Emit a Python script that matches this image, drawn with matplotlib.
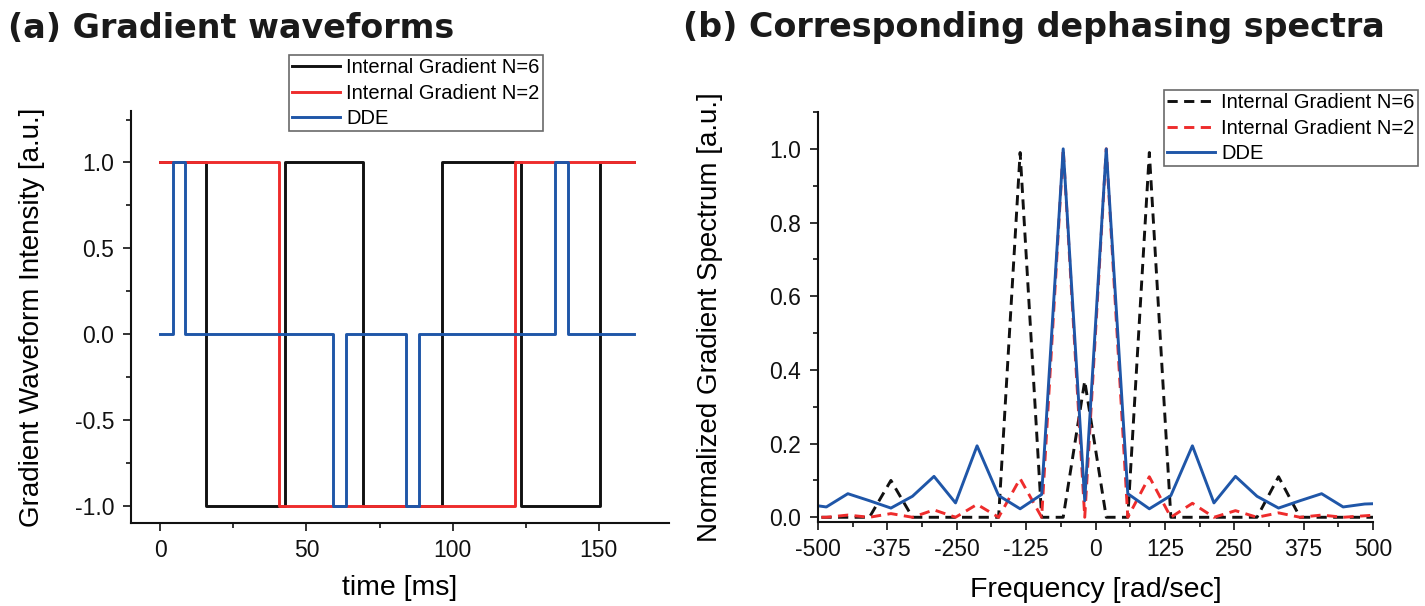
import matplotlib
matplotlib.use("Agg")
import matplotlib.pyplot as plt
from matplotlib.ticker import MultipleLocator, FormatStrFormatter

plt.rcParams['font.family'] = ['Liberation Sans', 'DejaVu Sans']
plt.rcParams['axes.unicode_minus'] = False

# (a) gradient waveforms: switching times [ms] and levels (steps-post)
t_n6 = [0, 15.5, 42.5, 69.5, 96.5, 123.5, 150.5, 162]
g_n6 = [1, -1, 1, -1, 1, -1, 1, 1]
t_n2 = [0, 40.5, 121.5, 162]
g_n2 = [1, -1, 1, 1]
t_dde = [0, 4.2, 8.5, 59, 63.5, 84, 88.5, 135, 139.5, 162]
g_dde = [0, 1, 0, -1, 0, -1, 0, 1, 0, 0]

# (b) dephasing spectra
freq = [-523.8, -485.0, -446.2, -407.4, -368.6, -329.8, -291.0, -252.2,
        -213.4, -174.6, -135.8, -97.0, -58.2, -19.4, 19.4, 58.2, 97.0,
        135.8, 174.6, 213.4, 252.2, 291.0, 329.8, 368.6, 407.4, 446.2,
        485.0, 523.8]
spec_n6 = [0, 0, 0, 0, 0.10, 0, 0, 0, 0, 0, 0.99, 0, 0, 0.37, 0, 0, 0.99,
           0, 0, 0, 0, 0, 0.11, 0, 0, 0, 0, 0]
spec_n2 = [0.0, 0.0, 0.006, 0.0, 0.01, 0.0, 0.02, 0.0, 0.035, 0.0, 0.105,
           0.0, 1.0, 0.0, 1.0, 0.0, 0.11, 0.0, 0.038, 0.0, 0.018, 0.0,
           0.012, 0.0, 0.006, 0.0, 0.004, 0.008]
spec_dde = [0.036, 0.028, 0.064, 0.045, 0.025, 0.057, 0.111, 0.039, 0.194,
            0.059, 0.023, 0.062, 1.0, 0.045, 1.0, 0.064, 0.023, 0.059,
            0.194, 0.039, 0.111, 0.057, 0.025, 0.045, 0.064, 0.028, 0.036,
            0.038]

labels = ["Internal Gradient N=6", "Internal Gradient N=2", "DDE"]
c_black = "#111111"
c_red = "#ee2c2c"
c_blue = "#1f56a8"
lw = 2.1
W, H = 1425, 606

fig = plt.figure(figsize=(W / 100, H / 100), dpi=100)
ax1 = fig.add_axes([131 / W, (H - 522.7) / H, (669 - 131) / W, 411.7 / H])
ax2 = fig.add_axes([818 / W, (H - 521.7) / H, 555 / W, 409.7 / H])


def style_axes(ax):
    for s in ["top", "right"]:
        ax.spines[s].set_visible(False)
    for s in ["left", "bottom"]:
        ax.spines[s].set_linewidth(1.5)
        ax.spines[s].set_color("#111111")
    ax.tick_params(which="major", direction="out", length=6, width=1.2,
                   labelsize=16.5, pad=6, colors="#111111")
    ax.tick_params(which="minor", direction="out", length=3.5, width=1.2,
                   colors="#111111")


def add_legend(ax, x, y):
    leg = ax.legend(loc="upper left", bbox_to_anchor=(x / W, 1 - y / H),
                    bbox_transform=fig.transFigure, borderaxespad=0,
                    fontsize=14.5, frameon=True, fancybox=False,
                    handlelength=2.4, handletextpad=0.3, labelspacing=0.33,
                    borderpad=0.15)
    leg.get_frame().set_edgecolor("#444444")
    leg.get_frame().set_linewidth(1.2)
    return leg


# panel (a)
ax1.plot(t_n6, g_n6, drawstyle="steps-post", color=c_black, lw=lw, label=labels[0])
ax1.plot(t_n2, g_n2, drawstyle="steps-post", color=c_red, lw=lw, label=labels[1])
ax1.plot(t_dde, g_dde, drawstyle="steps-post", color=c_blue, lw=lw, label=labels[2])
ax1.set_xlim(-10, 174)
ax1.set_ylim(-1.1, 1.3)
ax1.set_xticks([0, 50, 100, 150])
ax1.xaxis.set_minor_locator(MultipleLocator(25))
ax1.set_yticks([-1.0, -0.5, 0.0, 0.5, 1.0])
ax1.yaxis.set_minor_locator(MultipleLocator(0.25))
ax1.yaxis.set_major_formatter(FormatStrFormatter("%.1f"))
style_axes(ax1)
ax1.set_xlabel("time [ms]", fontsize=20.5)
ax1.set_ylabel("Gradient Waveform Intensity [a.u.]", fontsize=20)
ax1.xaxis.set_label_coords(0.5, -0.128)
ax1.yaxis.set_label_coords(-0.16, 0.5)
add_legend(ax1, 289, 55)

# panel (b)
ax2.plot(freq, spec_n6, color=c_black, lw=lw, dashes=(3.5, 2.2), label=labels[0])
ax2.plot(freq, spec_n2, color=c_red, lw=lw, dashes=(3.5, 2.2), label=labels[1])
ax2.plot(freq, spec_dde, color=c_blue, lw=lw, label=labels[2])
ax2.set_xlim(-500, 500)
ax2.set_ylim(-0.012, 1.1)
ax2.set_xticks([-500, -375, -250, -125, 0, 125, 250, 375, 500])
ax2.xaxis.set_minor_locator(MultipleLocator(62.5))
ax2.set_yticks([0.0, 0.2, 0.4, 0.6, 0.8, 1.0])
ax2.yaxis.set_minor_locator(MultipleLocator(0.1))
ax2.yaxis.set_major_formatter(FormatStrFormatter("%.1f"))
style_axes(ax2)
ax2.set_xlabel("Frequency [rad/sec]", fontsize=20.5)
ax2.set_ylabel("Normalized Gradient Spectrum [a.u.]", fontsize=20)
ax2.xaxis.set_label_coords(0.5, -0.134)
ax2.yaxis.set_label_coords(-0.171, 0.5)
add_legend(ax2, 1164, 90)

fig.text(8 / W, 1 - 28 / H, "(a) Gradient waveforms", fontsize=24,
         fontweight="bold", family="DejaVu Sans", va="center", ha="left",
         color="#1a1a1a")
fig.text(683 / W, 1 - 28 / H, "(b) Corresponding dephasing spectra",
         fontsize=24, fontweight="bold", family="DejaVu Sans", va="center",
         ha="left", color="#1a1a1a")

fig.savefig("out.png", dpi=100, facecolor="white")
